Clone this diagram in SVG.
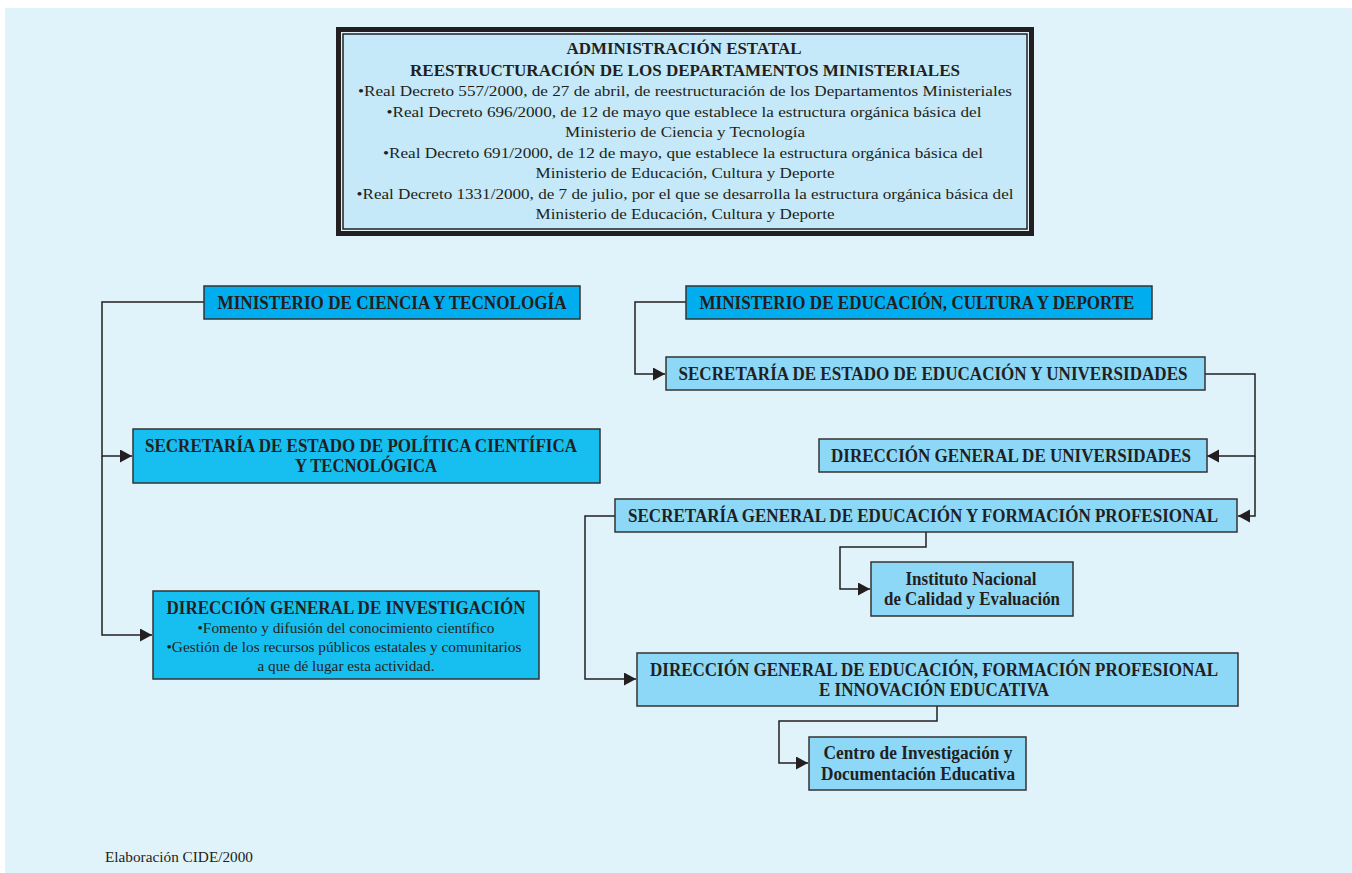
<svg xmlns="http://www.w3.org/2000/svg" width="1352" height="873" viewBox="0 0 1352 873">
<style>
.t{font-family:"Liberation Serif","Times New Roman",serif;fill:#231f20;text-anchor:middle}
.b{font-weight:bold;font-size:18px}
.h{font-weight:bold;font-size:17px}
.r{font-size:15.5px}
.s{font-size:15px}
.box{stroke:#333;stroke-width:1.5}
.c1{fill:#00aeef}
.c2{fill:#16bff0}
.c3{fill:#8dd8f7}
.ln{fill:none;stroke:#231f20;stroke-width:1.5}
</style>
<defs>
<marker id="ah" markerUnits="userSpaceOnUse" markerWidth="14" markerHeight="14" refX="12" refY="6.5" orient="auto">
<path d="M0,0 L12,6.5 L0,13 z" fill="#231f20"/>
</marker>
</defs>
<rect x="0" y="0" width="1352" height="873" fill="#ffffff"/>
<rect x="5" y="8" width="1347" height="865" fill="#e0f3fb"/>

<g id="header">
<rect x="338.5" y="29.5" width="693" height="204" fill="#e0f3fb" stroke="#231f20" stroke-width="5"/>
<rect x="343" y="34" width="684" height="195" fill="#c5e9f8" stroke="#231f20" stroke-width="1.5"/>
<text class="t h" x="684" y="54" textLength="235" lengthAdjust="spacingAndGlyphs">ADMINISTRACIÓN ESTATAL</text>
<text class="t h" x="685" y="76" textLength="550" lengthAdjust="spacingAndGlyphs">REESTRUCTURACIÓN DE LOS DEPARTAMENTOS MINISTERIALES</text>
<text class="t r" x="685" y="96" textLength="654" lengthAdjust="spacingAndGlyphs">•Real Decreto 557/2000, de 27 de abril, de reestructuración de los Departamentos Ministeriales</text>
<text class="t r" x="684" y="117" textLength="595" lengthAdjust="spacingAndGlyphs">•Real Decreto 696/2000, de 12 de mayo que establece la estructura orgánica básica del</text>
<text class="t r" x="685" y="137" textLength="240" lengthAdjust="spacingAndGlyphs">Ministerio de Ciencia y Tecnología</text>
<text class="t r" x="683" y="158" textLength="600" lengthAdjust="spacingAndGlyphs">•Real Decreto 691/2000, de 12 de mayo, que establece la estructura orgánica básica del</text>
<text class="t r" x="685" y="178" textLength="299" lengthAdjust="spacingAndGlyphs">Ministerio de Educación, Cultura y Deporte</text>
<text class="t r" x="685" y="199" textLength="657" lengthAdjust="spacingAndGlyphs">•Real Decreto 1331/2000, de 7 de julio, por el que se desarrolla la estructura orgánica básica del</text>
<text class="t r" x="685" y="219" textLength="299" lengthAdjust="spacingAndGlyphs">Ministerio de Educación, Cultura y Deporte</text>
</g>

<g id="connectors">
<polyline class="ln" points="204,302 102,302 102,456 132,456" marker-end="url(#ah)"/>
<polyline class="ln" points="102,456 102,635 152,635" marker-end="url(#ah)"/>
<polyline class="ln" points="686,302 635,302 635,374 665,374" marker-end="url(#ah)"/>
<polyline class="ln" points="1205,374 1255,374 1255,456 1207,456" marker-end="url(#ah)"/>
<polyline class="ln" points="1255,456 1255,516 1238,516" marker-end="url(#ah)"/>
<polyline class="ln" points="615,516 585,516 585,679 636,679" marker-end="url(#ah)"/>
<polyline class="ln" points="926,532 926,547 840,547 840,589 870,589" marker-end="url(#ah)"/>
<polyline class="ln" points="937,706 937,721 779,721 779,763 808,763" marker-end="url(#ah)"/>
</g>

<g id="min-ciencia">
<rect class="box c1" x="204" y="286" width="376" height="33"/>
<text class="t b" x="392" y="309" textLength="349" lengthAdjust="spacingAndGlyphs">MINISTERIO DE CIENCIA Y TECNOLOGÍA</text>
</g>

<g id="sec-politica">
<rect class="box c2" x="133" y="429" width="467" height="54"/>
<text class="t b" x="361" y="452" textLength="432" lengthAdjust="spacingAndGlyphs">SECRETARÍA DE ESTADO DE POLÍTICA CIENTÍFICA</text>
<text class="t b" x="366" y="472" textLength="142" lengthAdjust="spacingAndGlyphs">Y TECNOLÓGICA</text>
</g>

<g id="dg-investigacion">
<rect class="box c2" x="153" y="591" width="386" height="88"/>
<text class="t b" x="346" y="614" textLength="359" lengthAdjust="spacingAndGlyphs">DIRECCIÓN GENERAL DE INVESTIGACIÓN</text>
<text class="t s" x="346" y="633" textLength="297" lengthAdjust="spacingAndGlyphs">•Fomento y difusión del conocimiento científico</text>
<text class="t s" x="344" y="652" textLength="355" lengthAdjust="spacingAndGlyphs">•Gestión de los recursos públicos estatales y comunitarios</text>
<text class="t s" x="346" y="671" textLength="177" lengthAdjust="spacingAndGlyphs">a que dé lugar esta actividad.</text>
</g>

<g id="min-educacion">
<rect class="box c1" x="686" y="286" width="466" height="33"/>
<text class="t b" x="917" y="309" textLength="435" lengthAdjust="spacingAndGlyphs">MINISTERIO DE EDUCACIÓN, CULTURA Y DEPORTE</text>
</g>

<g id="sec-educacion">
<rect class="box c3" x="666" y="357" width="539" height="33"/>
<text class="t b" x="933" y="380" textLength="509" lengthAdjust="spacingAndGlyphs">SECRETARÍA DE ESTADO DE EDUCACIÓN Y UNIVERSIDADES</text>
</g>

<g id="dg-universidades">
<rect class="box c3" x="819" y="439" width="388" height="33"/>
<text class="t b" x="1011" y="462" textLength="360" lengthAdjust="spacingAndGlyphs">DIRECCIÓN GENERAL DE UNIVERSIDADES</text>
</g>

<g id="sec-general">
<rect class="box c3" x="615" y="499" width="622" height="33"/>
<text class="t b" x="923" y="522" textLength="590" lengthAdjust="spacingAndGlyphs">SECRETARÍA GENERAL DE EDUCACIÓN Y FORMACIÓN PROFESIONAL</text>
</g>

<g id="instituto">
<rect class="box c3" x="871" y="562" width="202" height="54"/>
<text class="t b" x="971" y="585" textLength="131" lengthAdjust="spacingAndGlyphs">Instituto Nacional</text>
<text class="t b" x="972" y="605" textLength="176" lengthAdjust="spacingAndGlyphs">de Calidad y Evaluación</text>
</g>

<g id="dg-educacion">
<rect class="box c3" x="637" y="653" width="601" height="53"/>
<text class="t b" x="934" y="676" textLength="568" lengthAdjust="spacingAndGlyphs">DIRECCIÓN GENERAL DE EDUCACIÓN, FORMACIÓN PROFESIONAL</text>
<text class="t b" x="934" y="696" textLength="230" lengthAdjust="spacingAndGlyphs">E INNOVACIÓN EDUCATIVA</text>
</g>

<g id="centro">
<rect class="box c3" x="809" y="737" width="217" height="53"/>
<text class="t b" x="918" y="759" textLength="189" lengthAdjust="spacingAndGlyphs">Centro de Investigación y</text>
<text class="t b" x="918" y="780" textLength="194" lengthAdjust="spacingAndGlyphs">Documentación Educativa</text>
</g>

<text class="t" x="179" y="862" font-size="14" textLength="148" lengthAdjust="spacingAndGlyphs">Elaboración CIDE/2000</text>
</svg>
